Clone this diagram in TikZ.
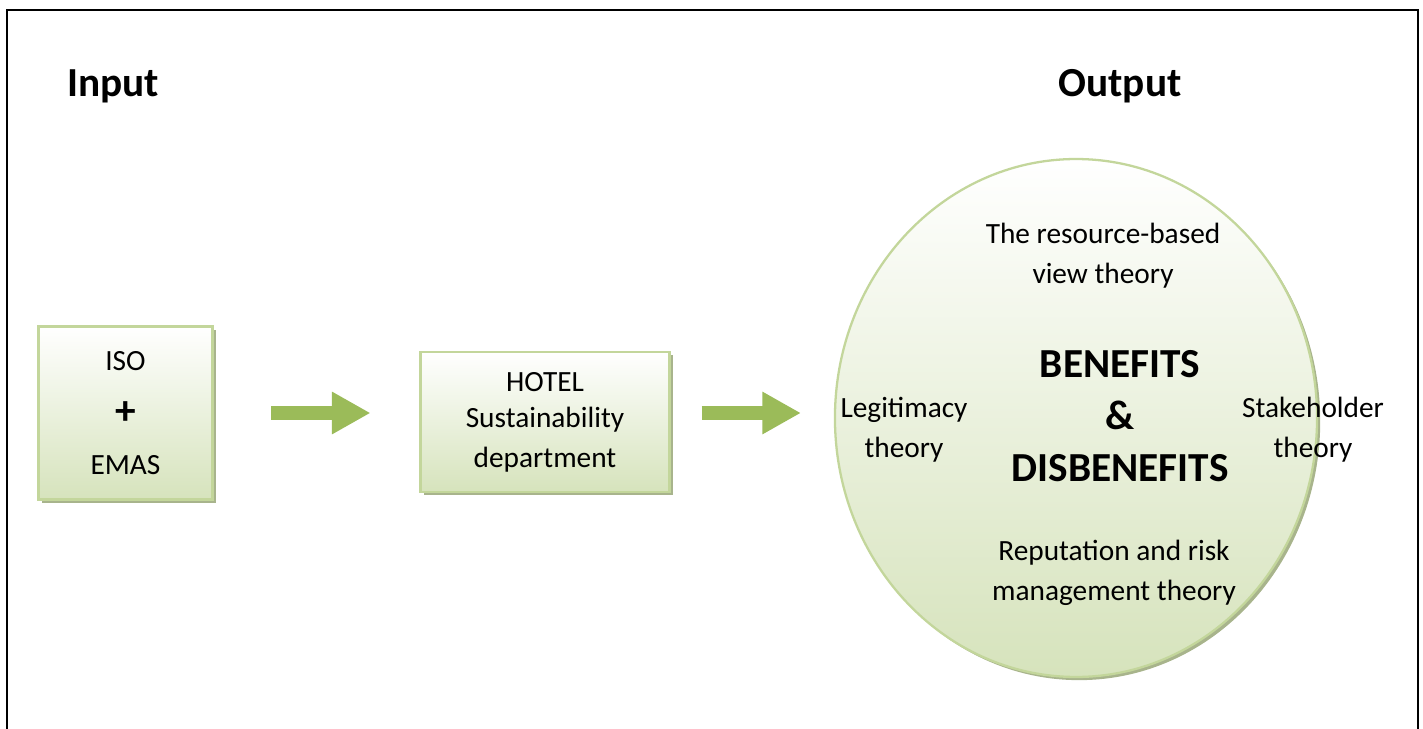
\documentclass[tikz,border=0pt]{standalone}
\usepackage{fontspec}
\setmainfont{Carlito}
\usetikzlibrary{arrows.meta, positioning, shadows, shapes.geometric}
\definecolor{framegreen}{RGB}{195, 214, 155}
\definecolor{fillgreen}{RGB}{214, 227, 188}
\definecolor{arrowgreen}{RGB}{155, 187, 89}
\definecolor{shadowgreen}{RGB}{168, 180, 140}
\newcommand{\txtfont}{\fontsize{16.7}{22.7}\selectfont}
\newcommand{\headfont}{\fontsize{23.5}{29.5}\selectfont\bfseries}

\begin{document}
\begin{tikzpicture}[x=0.02cm, y=-0.02cm,
  box/.style={draw=framegreen, line width=1.3pt, top color=white, bottom color=fillgreen,
    general shadow={fill=shadowgreen, shadow xshift=1.8pt, shadow yshift=-1.8pt},
    align=center, font=\txtfont, inner sep=0pt},
  theory/.style={align=center, font=\txtfont, inner sep=0pt},
  flow/.style={-{Triangle[length=22pt, width=22.7pt]}, line width=7.9pt, draw=arrowgreen},
]
  \useasboundingbox (0,0) rectangle (1423,729);
  % outer frame, open at the bottom
  \draw[line width=1.3pt] (7,740) -- (7,10) -- (1418,10) -- (1418,740);

  \node[font=\headfont] (input) at (113, 86) {Input};
  \node[font=\headfont] (output) at (1120, 86) {Output};

  \node[box, minimum width=99pt, minimum height=98.6pt] (iso) at (125.5, 413)
    {ISO\\[8pt]{\headfont +}\\[6pt]EMAS};
  \node[box, minimum width=141.7pt, minimum height=79.4pt] (hotel) at (545, 422)
    {\raisebox{-2pt}{HOTEL}\\Sustainability\\department};
  \node[box, ellipse, minimum width=274.4pt, minimum height=294.8pt] (out) at (1076, 418) {};

  \node[theory] (rbv) at (1103, 256) {The resource-based\\view theory};
  \node[theory] (legit) at (904, 430) {Legitimacy\\theory};
  \node[theory] (stake) at (1313, 430) {Stakeholder\\theory};
  \node[theory] (rep) at (1114, 573) {Reputation and risk\\management theory};
  \node[align=center, font=\headfont, inner sep=0pt] (bd) at (1120, 416) {BENEFITS\\\&\\DISBENEFITS};

  \draw[flow, shorten <=32.9pt, shorten >=27.8pt] (iso.east) -- (iso.east -| hotel.west);
  \draw[flow, shorten <=17.6pt, shorten >=18.7pt] (iso.east -| hotel.east) -- (iso.east -| out.west);
\end{tikzpicture}
\end{document}
